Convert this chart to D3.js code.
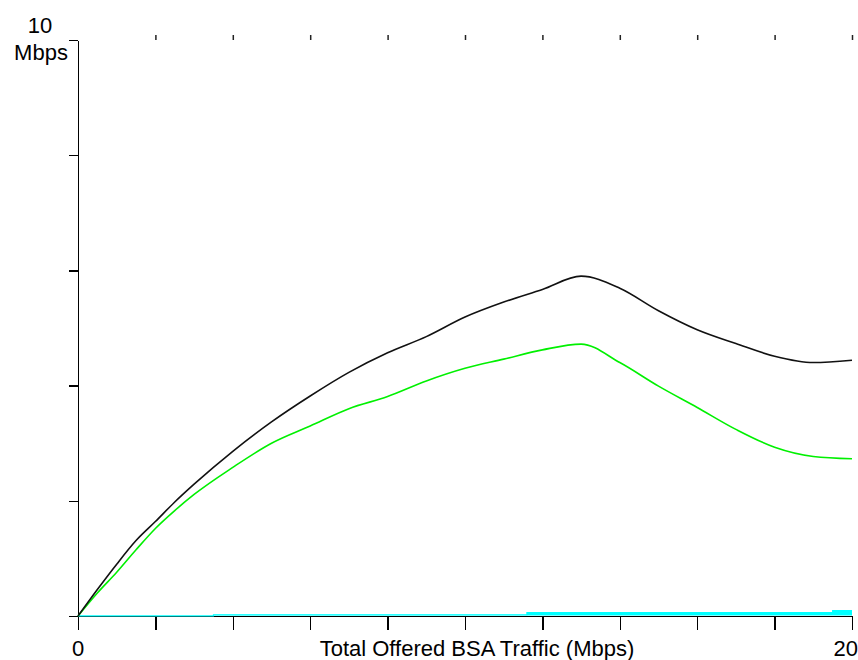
<!DOCTYPE html>
<html>
<head>
<meta charset="utf-8">
<script src="https://cdn.jsdelivr.net/npm/d3@7"></script>
<style>
  body { margin: 0; background: #fff; }
  text { font-family: "Liberation Sans", Arial, sans-serif; font-size: 22px; fill: #000; }
</style>
</head>
<body>
<svg width="858" height="660"></svg>
<script>
// offered traffic (Mbps) sampled along the x axis
let offered = [0, 0.5, 1, 1.5, 2, 2.5, 3, 4, 5, 6, 7, 8, 9, 10, 11, 12, 13, 14, 15, 16, 17, 18, 19, 20];
// black curve
let throughputTotal = [0, 0.46, 0.90, 1.31, 1.64, 1.98, 2.29, 2.86, 3.37, 3.82, 4.23, 4.57, 4.85, 5.19, 5.45, 5.67, 5.90, 5.69, 5.30, 4.97, 4.73, 4.51, 4.40, 4.44];
// green curve
let throughputData = [0, 0.40, 0.76, 1.15, 1.52, 1.83, 2.11, 2.58, 3.00, 3.30, 3.60, 3.81, 4.08, 4.30, 4.46, 4.62, 4.72, 4.40, 3.99, 3.62, 3.24, 2.93, 2.77, 2.73];
// cyan steps near zero
let cyanOffered = [0, 3.5, 11.6, 19.5, 20];
let cyanValues = [0, 0.022, 0.06, 0.095, 0.095];

let xTicks = [0, 2, 4, 6, 8, 10, 12, 14, 16, 18, 20];
let yTicks = [0, 2, 4, 6, 8, 10];
let yTopLabel = "10", yUnit = "Mbps";
let xTitle = "Total Offered BSA Traffic (Mbps)";

let svg = d3.select("svg"),
    margin = {top: 40, right: 6, bottom: 44, left: 78},
    width = svg.attr("width") - margin.left - margin.right,
    height = svg.attr("height") - margin.top - margin.bottom,
    g = svg.append("g").attr("transform", "translate(" + margin.left + "," + margin.top + ")");

let x = d3.scaleLinear().domain([0, 20]).range([0, width]),
    y = d3.scaleLinear().domain([0, 10]).range([height, 0]);

let line = d3.line()
    .curve(d3.curveMonotoneX)
    .x(function(d) { return x(d[0]); })
    .y(function(d) { return y(d[1]); });

// top ticks without an axis line
g.append("g")
    .call(d3.axisTop(x).tickValues(xTicks.slice(1)).tickSize(5).tickFormat(""))
    .call(function(a) { a.select(".domain").remove(); })
    .selectAll("line").attr("stroke", "#222").attr("stroke-width", 1.5);

g.append("g")
    .attr("transform", "translate(0," + height + ")")
    .call(d3.axisBottom(x).tickValues(xTicks).tickSizeInner(14).tickSizeOuter(0).tickFormat(""))
    .attr("shape-rendering", "crispEdges")
    .selectAll("path, line").attr("stroke-width", 1.5);

g.append("g")
    .call(d3.axisLeft(y).tickValues(yTicks).tickSizeInner(9).tickSizeOuter(0).tickFormat(""))
    .attr("shape-rendering", "crispEdges")
    .selectAll("path, line").attr("stroke-width", 1.5);

// cyan band sitting on the axis
let cyanPts = cyanOffered.map(function(v, i) { return [v, cyanValues[i]]; });
g.append("path")
    .datum(cyanPts)
    .attr("fill", "#00ffff")
    .attr("d", d3.area().curve(d3.curveStepAfter)
        .x(function(d) { return x(d[0]); })
        .y0(y(0) - 0.5)
        .y1(function(d) { return y(d[1]); }));
g.append("path")
    .datum(cyanPts)
    .attr("fill", "none")
    .attr("stroke", "#00ffff")
    .attr("stroke-width", 1.2)
    .attr("d", d3.line().curve(d3.curveStepAfter)
        .x(function(d) { return x(d[0]); })
        .y(function(d) { return y(d[1]); }));

g.append("path")
    .datum(offered.map(function(v, i) { return [v, throughputData[i]]; }))
    .attr("fill", "none")
    .attr("stroke", "#00f000")
    .attr("stroke-width", 1.6)
    .attr("d", line);

g.append("path")
    .datum(offered.map(function(v, i) { return [v, throughputTotal[i]]; }))
    .attr("fill", "none")
    .attr("stroke", "#111")
    .attr("stroke-width", 1.6)
    .attr("d", line);

// labels
svg.append("text").attr("x", 40).attr("y", 33).attr("text-anchor", "middle").text(yTopLabel);
svg.append("text").attr("x", 41).attr("y", 60).attr("text-anchor", "middle").text(yUnit);
svg.append("text").attr("x", margin.left + x(0)).attr("y", 656).attr("text-anchor", "middle").text(xTicks[0]);
svg.append("text").attr("x", 858).attr("y", 656).attr("text-anchor", "end").text(xTicks[xTicks.length - 1]);
svg.append("text").attr("x", 477).attr("y", 656).attr("text-anchor", "middle").text(xTitle);
</script>
</body>
</html>
